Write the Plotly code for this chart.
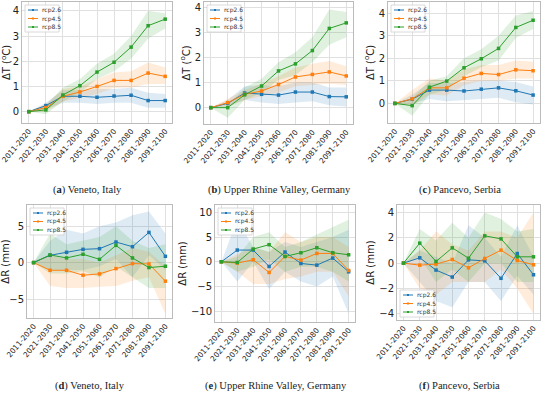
import plotly.graph_objects as go

periods = ["2011-2020", "2021-2030", "2031-2040", "2041-2050", "2051-2060",
           "2061-2070", "2071-2080", "2081-2090", "2091-2100"]
scenarios = ["rcp2.6", "rcp4.5", "rcp8.5"]
colors = {"rcp2.6": "#1f77b4", "rcp4.5": "#ff7f0e", "rcp8.5": "#2ca02c"}
fills = {"rcp2.6": "rgba(31,119,180,0.15)", "rcp4.5": "rgba(255,127,14,0.15)",
         "rcp8.5": "rgba(44,160,44,0.15)"}

# ---- Temperature (a) Veneto
a_mean = {
    "rcp2.6": [0, 0.24, 0.61, 0.61, 0.57, 0.62, 0.65, 0.44, 0.44],
    "rcp4.5": [0, 0.16, 0.61, 0.78, 1.00, 1.24, 1.24, 1.53, 1.40],
    "rcp8.5": [0, 0.07, 0.66, 1.03, 1.57, 1.96, 2.56, 3.41, 3.67],
}
a_lo = {
    "rcp2.6": [0, 0.10, 0.35, 0.35, 0.30, 0.35, 0.35, 0.15, 0.15],
    "rcp4.5": [0, 0.00, 0.40, 0.55, 0.70, 0.95, 0.95, 1.10, 1.10],
    "rcp8.5": [0, -0.10, 0.40, 0.75, 1.30, 1.60, 2.10, 2.90, 3.30],
}
a_hi = {
    "rcp2.6": [0, 0.35, 0.85, 0.85, 0.90, 0.90, 0.95, 0.75, 0.70],
    "rcp4.5": [0, 0.30, 0.90, 1.00, 1.30, 1.55, 1.60, 1.95, 1.75],
    "rcp8.5": [0, 0.25, 0.95, 1.30, 1.90, 2.30, 3.00, 4.00, 3.90],
}
# ---- Temperature (b) Upper Rhine Valley
b_mean = {
    "rcp2.6": [0, 0.17, 0.58, 0.53, 0.50, 0.62, 0.62, 0.44, 0.43],
    "rcp4.5": [0, 0.20, 0.53, 0.66, 0.92, 1.22, 1.32, 1.42, 1.26],
    "rcp8.5": [0, 0.00, 0.51, 0.86, 1.46, 1.74, 2.27, 3.15, 3.37],
}
b_lo = {
    "rcp2.6": [0, 0.05, 0.30, 0.20, 0.15, 0.20, 0.25, 0.10, 0.05],
    "rcp4.5": [0, 0.05, 0.30, 0.45, 0.60, 0.85, 0.90, 0.95, 0.90],
    "rcp8.5": [0, -0.40, 0.30, 0.60, 1.10, 1.30, 1.80, 2.50, 2.80],
}
b_hi = {
    "rcp2.6": [0, 0.30, 0.85, 0.90, 0.85, 1.00, 1.00, 0.80, 0.80],
    "rcp4.5": [0, 0.35, 0.70, 0.95, 1.25, 1.60, 1.75, 1.85, 1.65],
    "rcp8.5": [0, 0.10, 0.80, 1.15, 1.80, 2.20, 2.80, 3.90, 3.80],
}
# ---- Temperature (c) Pancevo
c_mean = {
    "rcp2.6": [0, 0.19, 0.59, 0.59, 0.55, 0.63, 0.69, 0.56, 0.37],
    "rcp4.5": [0, 0.20, 0.69, 0.69, 1.12, 1.33, 1.28, 1.49, 1.45],
    "rcp8.5": [0, -0.10, 0.72, 0.99, 1.58, 1.98, 2.44, 3.37, 3.69],
}
c_lo = {
    "rcp2.6": [0, 0.00, 0.20, 0.10, 0.15, 0.20, 0.25, 0.05, -0.05],
    "rcp4.5": [0, -0.10, 0.40, 0.35, 0.80, 1.00, 1.00, 1.10, 1.10],
    "rcp8.5": [0, -0.55, 0.40, 0.60, 1.20, 1.60, 1.90, 2.90, 3.30],
}
c_hi = {
    "rcp2.6": [0, 0.40, 0.90, 0.90, 0.95, 1.00, 1.00, 0.95, 0.75],
    "rcp4.5": [0, 0.60, 1.10, 1.00, 1.50, 1.70, 1.70, 1.90, 1.85],
    "rcp8.5": [0, 0.25, 1.00, 1.20, 2.00, 2.40, 3.00, 3.90, 4.10],
}
# ---- Precipitation (d) Veneto
d_mean = {
    "rcp2.6": [0, 1.00, 1.41, 1.82, 1.91, 2.82, 2.18, 4.14, 0.86],
    "rcp4.5": [0, -1.05, -1.05, -1.73, -1.55, -0.82, -0.14, -0.18, -2.55],
    "rcp8.5": [0, 1.05, 0.64, 1.14, 0.45, 2.36, 0.64, -0.68, -0.50],
}
d_lo = {
    "rcp2.6": [0, -1.0, -1.0, -1.0, -0.5, 0.5, -2.0, 1.0, -1.0],
    "rcp4.5": [0, -3.2, -3.5, -3.5, -3.3, -3.2, -2.5, -2.0, -7.0],
    "rcp8.5": [0, -1.5, -1.5, -1.2, -2.0, -0.5, -2.0, -3.5, -3.5],
}
d_hi = {
    "rcp2.6": [0, 3.0, 4.5, 4.0, 5.0, 5.5, 6.5, 7.0, 4.0],
    "rcp4.5": [0, 1.0, 0.5, 0.5, 0.0, 1.0, 2.0, 1.5, -0.5],
    "rcp8.5": [0, 4.0, 2.5, 3.0, 3.5, 5.0, 3.0, 2.0, 2.5],
}
# ---- Precipitation (e) Upper Rhine Valley
e_mean = {
    "rcp2.6": [0, 2.37, 2.37, -0.95, 1.97, -0.34, -0.68, 0.75, -2.03],
    "rcp4.5": [0, -0.27, 0.41, -2.17, 1.08, 0.34, 1.69, 1.69, -1.76],
    "rcp8.5": [0, -0.14, 2.58, 3.46, 1.08, 1.83, 2.85, 1.83, 1.42],
}
e_lo = {
    "rcp2.6": [0, -4.0, 0.0, -5.5, -2.0, -4.0, -5.0, -3.0, -10.5],
    "rcp4.5": [0, -2.0, -4.5, -4.5, -3.5, -3.0, -2.0, -2.0, -7.0],
    "rcp8.5": [0, -2.0, -1.0, 0.5, -2.0, -1.0, -1.0, -2.0, -4.0],
}
e_hi = {
    "rcp2.6": [0, 8.5, 3.0, 2.0, 4.0, 3.0, 4.0, 5.0, 6.5],
    "rcp4.5": [0, 1.5, 3.0, 2.0, 6.0, 4.0, 5.0, 5.0, 3.0],
    "rcp8.5": [0, 1.0, 5.0, 6.0, 3.0, 4.0, 5.5, 7.0, 8.5],
}
# ---- Precipitation (f) Pancevo
f_mean = {
    "rcp2.6": [0, 0.42, -0.55, -1.10, 0.26, 0.18, -1.20, 0.76, -0.92],
    "rcp4.5": [0, -0.16, -0.08, 0.29, -0.37, 0.37, 1.03, 0.21, -0.13],
    "rcp8.5": [0, 1.58, 0.13, 1.21, 0.39, 2.16, 1.92, 0.50, 0.50],
}
f_lo = {
    "rcp2.6": [0, -1.5, -3.0, -3.5, -1.5, -1.5, -3.0, -1.0, -2.5],
    "rcp4.5": [0, -2.0, -2.5, -1.5, -1.5, -1.5, -0.5, -2.0, -4.0],
    "rcp8.5": [0, 0.5, -1.5, -0.5, -1.5, 0.0, 0.0, -1.5, -1.5],
}
f_hi = {
    "rcp2.6": [0, 1.0, 0.5, 0.0, 3.0, 2.0, 0.5, 3.0, 0.5],
    "rcp4.5": [0, 1.0, 2.5, 1.5, 1.0, 2.5, 2.5, 2.0, 4.0],
    "rcp8.5": [0, 2.7, 1.8, 3.2, 2.0, 4.0, 3.5, 2.5, 2.7],
}

W, H = 550, 394
panels = [
    (a_mean, a_lo, a_hi, (22, 172, 2, 123), [-0.45, 4.35], [0, 1, 2, 3, 4], "ΔT (<sup>o</sup>C)", "a", " Veneto, Italy", 87, "top"),
    (b_mean, b_lo, b_hi, (204, 353, 2, 124), [-0.65, 4.2], [0, 1, 2, 3, 4], "ΔT (<sup>o</sup>C)", "b", " Upper Rhine Valley, Germany", 280, "top"),
    (c_mean, c_lo, c_hi, (388, 540, 2, 123), [-0.87, 4.5], [0, 1, 2, 3, 4], "ΔT (<sup>o</sup>C)", "c", " Pancevo, Serbia", 460, "top"),
    (d_mean, d_lo, d_hi, (27, 172, 205, 318), [-7.6, 7.9], [-5, 0, 5], "ΔR (mm)", "d", " Veneto, Italy", 90, "top"),
    (e_mean, e_lo, e_hi, (215, 355, 205, 322), [-12.2, 11.5], [-10, -5, 0, 5, 10], "ΔR (mm)", "e", " Upper Rhine Valley, Germany", 276, "top"),
    (f_mean, f_lo, f_hi, (397, 540, 205, 320), [-4.5, 4.6], [-4, -2, 0, 2, 4], "ΔR (mm)", "f", " Pancevo, Serbia", 460, "bottom"),
]

fig = go.Figure()
xs = list(range(len(periods)))
shapes = []
annotations = []

for i, (mean, lo, hi, box, yr, tv, ylab, letter, cap, capx, legpos) in enumerate(panels):
    n = "" if i == 0 else str(i + 1)
    xa, ya = "x" + n, "y" + n
    for s in scenarios:
        fig.add_trace(go.Scatter(
            x=xs + xs[::-1], y=hi[s] + lo[s][::-1], fill="toself",
            fillcolor=fills[s], line=dict(width=0), mode="lines",
            hoverinfo="skip", showlegend=False, xaxis=xa, yaxis=ya))
    for s in scenarios:
        fig.add_trace(go.Scatter(
            x=xs, y=mean[s], mode="lines+markers", name=s,
            line=dict(color=colors[s], width=1),
            marker=dict(color=colors[s], size=3.5, symbol="square"),
            showlegend=False, xaxis=xa, yaxis=ya))
    x0, x1, y0, y1 = box
    dom_x = [x0 / W, x1 / W]
    dom_y = [1 - y1 / H, 1 - y0 / H]
    fig.layout["xaxis" + n] = dict(
        domain=dom_x, anchor=ya, range=[-0.4, 8.4], tickmode="array",
        tickvals=xs, ticktext=periods, tickangle=-50, automargin=False,
        tickfont=dict(family="DejaVu Sans", size=7.5, color="#222"),
        showgrid=True, gridcolor="#e0e0e0", gridwidth=1, zeroline=False,
        showline=True, linecolor="#bbbbbb", mirror=True, ticks="")
    fig.layout["yaxis" + n] = dict(
        domain=dom_y, anchor=xa, range=yr, tickmode="array", tickvals=tv,
        automargin=False,
        tickfont=dict(family="DejaVu Sans", size=10, color="#222"),
        title=dict(text=ylab, font=dict(family="DejaVu Sans", size=10, color="#222"), standoff=2),
        showgrid=True, gridcolor="#e0e0e0", gridwidth=1, zeroline=False,
        showline=True, linecolor="#bbbbbb", mirror=True, ticks="")
    capy = 190 if i < 3 else 386
    annotations.append(dict(
        text="(<b>" + letter + "</b>)" + cap, x=capx / W, y=1 - capy / H,
        xref="paper", yref="paper", showarrow=False, xanchor="center", yanchor="middle",
        font=dict(family="Liberation Serif", size=10.5, color="#222")))
    pw, ph = x1 - x0, y1 - y0
    lw, lh = 34, 27
    lx0 = 3
    ly0 = 3 if legpos == "top" else ph - lh - 3
    xr, yr_ = "x" + n + " domain", "y" + n + " domain"

    def fx(px):
        return px / pw

    def fy(py):
        return 1 - py / ph

    shapes.append(dict(type="rect", xref=xr, yref=yr_, x0=fx(lx0), x1=fx(lx0 + lw),
                       y0=fy(ly0 + lh), y1=fy(ly0), line=dict(color="#d0d0d0", width=0.8),
                       fillcolor="rgba(255,255,255,0.85)", layer="above"))
    for k, s in enumerate(scenarios):
        yy = ly0 + 5 + k * 8.5
        shapes.append(dict(type="line", xref=xr, yref=yr_, x0=fx(lx0 + 3), x1=fx(lx0 + 13),
                           y0=fy(yy), y1=fy(yy), line=dict(color=colors[s], width=1), layer="above"))
        shapes.append(dict(type="rect", xref=xr, yref=yr_, x0=fx(lx0 + 7), x1=fx(lx0 + 9),
                           y0=fy(yy + 1), y1=fy(yy - 1), line=dict(width=0),
                           fillcolor=colors[s], layer="above"))
        annotations.append(dict(text=s, xref=xr, yref=yr_, x=fx(lx0 + 15), y=fy(yy),
                                xanchor="left", yanchor="middle", showarrow=False,
                                font=dict(family="DejaVu Sans", size=6, color="#333")))

fig.update_layout(
    width=W, height=H, margin=dict(l=0, r=0, t=0, b=0, autoexpand=False),
    paper_bgcolor="white", plot_bgcolor="white", showlegend=False,
    shapes=shapes, annotations=annotations)

fig.write_html("out.html", config={"displayModeBar": False},
               post_script="document.body.style.margin='0';document.body.style.padding='0';")
